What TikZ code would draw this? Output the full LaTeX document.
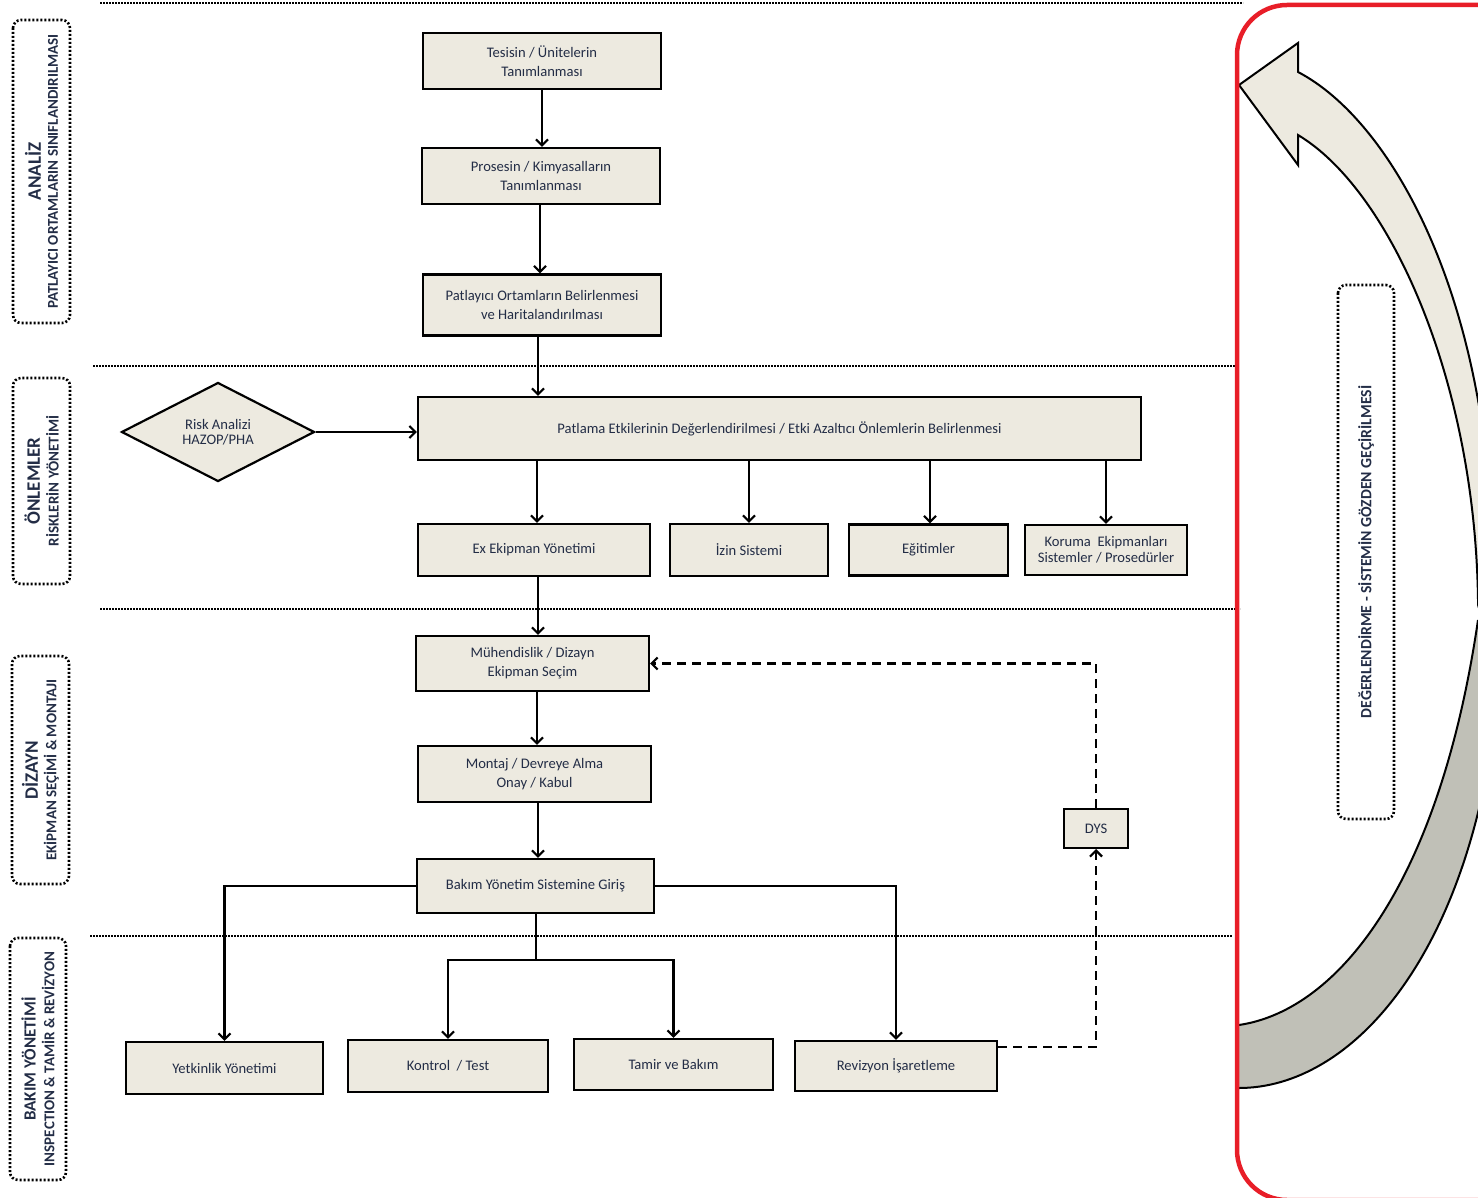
\documentclass[tikz,border=0pt]{standalone}
\usepackage{fontspec}
\setmainfont{Carlito}
\usetikzlibrary{arrows.meta,shapes.geometric}
\definecolor{boxfill}{RGB}{237,234,224}
\definecolor{txt}{RGB}{35,45,70}
\definecolor{greyband}{RGB}{192,192,183}
\definecolor{redline}{RGB}{232,30,40}
\begin{document}
\begin{tikzpicture}[x=1pt,y=-1pt,
  box/.style={draw=black, line width=2.2pt, fill=boxfill, inner sep=0pt, align=center, text=txt, font=\fontsize{14.6}{19}\selectfont},
  arr/.style={line width=2.2pt, -{Straight Barb[length=6pt,width=12pt,line width=2.2pt]}},
  dashline/.style={line width=2.4pt, dash pattern=on 9pt off 6pt},
  sepline/.style={line width=2.4pt, dash pattern=on 1.6pt off 1.4pt},
  lanebox/.style={draw=black, line width=2.6pt, dash pattern=on 2pt off 2pt, rounded corners=8pt, rotate=90, inner sep=0pt, align=center, text=txt}
]
\useasboundingbox (0,0) rectangle (1478,1198);

% separator lines
\draw[sepline] (100,3) -- (1243,3);
\draw[sepline] (93,366) -- (1235,366);
\draw[sepline] (100,609) -- (1240,609);
\draw[sepline] (90,936) -- (1232,936);

% lane labels
\node[lanebox, minimum width=303pt, minimum height=57pt] (lanA) at (41.5,171.5)
  {{\fontsize{19}{20}\bfseries ANALİZ}\\[5pt]{\fontsize{15}{16}\bfseries PATLAYICI ORTAMLARIN SINIFLANDIRILMASI}};
\node[lanebox, minimum width=206pt, minimum height=57pt] (lanB) at (41.5,481)
  {{\fontsize{19}{20}\bfseries ÖNLEMLER}\\[5pt]{\fontsize{15}{16}\bfseries RİSKLERİN YÖNETİMİ}};
\node[lanebox, minimum width=228pt, minimum height=57pt] (lanC) at (40.5,770)
  {{\fontsize{19}{20}\bfseries DİZAYN}\\[5pt]{\fontsize{15}{16}\bfseries EKİPMAN SEÇİMİ \& MONTAJI}};
\node[lanebox, minimum width=242pt, minimum height=56pt] (lanD) at (38,1059)
  {{\fontsize{17}{19}\bfseries BAKIM YÖNETİMİ}\\[5pt]{\fontsize{15}{16}\bfseries INSPECTION \& TAMİR \& REVİZYON}};
\node[lanebox, minimum width=534pt, minimum height=56pt] (lanE) at (1366,552)
  {\fontsize{15.7}{17}\bfseries DEĞERLENDİRME - SİSTEMİN GÖZDEN GEÇİRİLMESİ};

% boxes
\node[box, minimum width=238pt, minimum height=56pt] (tes) at (542,61) {Tesisin / Ünitelerin\\Tanımlanması};
\node[box, minimum width=238pt, minimum height=56pt] (pro) at (541,176) {Prosesin / Kimyasalların\\Tanımlanması};
\node[box, minimum width=238pt, minimum height=61pt] (pay) at (542,305) {Patlayıcı Ortamların Belirlenmesi\\ve Haritalandırılması};
\node[box, minimum width=723pt, minimum height=63pt] (pat) at (779.5,428.5) {Patlama Etkilerinin Değerlendirilmesi / Etki Azaltıcı Önlemlerin Belirlenmesi};
\node[diamond, draw=black, line width=2.2pt, fill=boxfill, aspect=1.95, minimum width=193pt, minimum height=99pt, inner sep=0pt, align=center, text=txt, font=\fontsize{14.6}{15}\selectfont] (risk) at (218,432) {Risk Analizi\\HAZOP/PHA};
\node[box, minimum width=232pt, minimum height=52pt] (ex) at (534,550) {Ex Ekipman Yönetimi};
\node[box, minimum width=158pt, minimum height=52pt] (izn) at (749,550) {İzin Sistemi};
\node[box, minimum width=159pt, minimum height=51pt] (egt) at (928.5,550) {Eğitimler};
\node[box, minimum width=162pt, minimum height=50pt] (kor) at (1106,550) {Koruma\ \ Ekipmanları\\[-3pt]Sistemler / Prosedürler};
\node[box, minimum width=233pt, minimum height=55pt] (muh) at (532.5,663.5) {Mühendislik / Dizayn\\Ekipman Seçim};
\node[box, minimum width=233pt, minimum height=56pt] (mon) at (534.5,774) {Montaj / Devreye Alma\\Onay / Kabul};
\node[box, minimum width=237pt, minimum height=54pt] (bak) at (535.5,886) {Bakım Yönetim Sistemine Giriş};
\node[box, minimum width=64pt, minimum height=39pt, line width=2pt] (dys) at (1096,828.5) {DYS};
\node[box, minimum width=197pt, minimum height=52pt] (yet) at (224.5,1068) {Yetkinlik Yönetimi};
\node[box, minimum width=200pt, minimum height=52pt] (kon) at (448,1066) {Kontrol\ \ / Test};
\node[box, minimum width=199pt, minimum height=51pt] (tam) at (673.5,1064.5) {Tamir ve Bakım};
\node[box, minimum width=202pt, minimum height=50pt] (rev) at (896,1066) {Revizyon İşaretleme};

% connectors
\draw[arr] (tes.south) -- (tes.south |- pro.north);
\draw[arr] ([xshift=-1pt]pro.south) -- ([xshift=-1pt]pro.south |- pay.north);
\draw[arr] ([xshift=-4pt]pay.south) -- ([xshift=-4pt]pay.south |- pat.north);
\draw[arr] (risk.east) -- (risk.east -| pat.west);
\draw[arr] (pat.south -| 537,0) -- (ex.north -| 537,0);
\draw[arr] (pat.south -| izn.north) -- (izn.north);
\draw[arr] (pat.south -| 930,0) -- (egt.north -| 930,0);
\draw[arr] (pat.south -| kor.north) -- (kor.north);
\draw[arr] (ex.south -| 538,0) -- (muh.north -| 538,0);
\draw[arr] (muh.south -| 537,0) -- (mon.north -| 537,0);
\draw[arr] (mon.south -| 538,0) -- (bak.north -| 538,0);
\draw[arr] (bak.west) -| (yet.north);
\draw[arr] (bak.east) -| (rev.north);
\coordinate (jn) at (536,960);
\draw[line width=2.2pt] (bak.south -| jn) -- (jn);
\draw[arr] (jn) -| (kon.north);
\draw[arr] (jn) -| (tam.north);
\draw[dashline, -{Straight Barb[length=6pt,width=12pt,line width=2.2pt]}] ([yshift=19pt]rev.east) -| (dys.south);
\draw[dashline, -{Straight Barb[length=6pt,width=12pt,line width=2.2pt]}] (dys.north) |- (muh.east);

% review arrow and frame
\begin{scope}
\clip (0,0) rectangle (1478,1198);
\fill[greyband] (1239,1025) .. controls (1340,1010) and (1440,880) .. (1478,620)
  -- (1540,620) -- (1540,720) -- (1495,720)
  .. controls (1465,960) and (1350,1088) .. (1239,1088) -- cycle;
\draw[line width=2pt] (1239,1025) .. controls (1340,1010) and (1440,880) .. (1478,620);
\draw[line width=2pt] (1495,720) .. controls (1465,960) and (1350,1088) .. (1239,1088);
\draw[line width=2pt, fill=boxfill, line join=miter] (1239,85) -- (1298,43) -- (1298,72)
  .. controls (1390,120) and (1485,290) .. (1492,540) -- (1478,600)
  .. controls (1475,380) and (1390,190) .. (1298,135) -- (1298,165) -- cycle;
\draw[redline, line width=4.5pt, rounded corners=50pt] (1237,5) rectangle (1650,1200);
\end{scope}
\end{tikzpicture}
\end{document}
